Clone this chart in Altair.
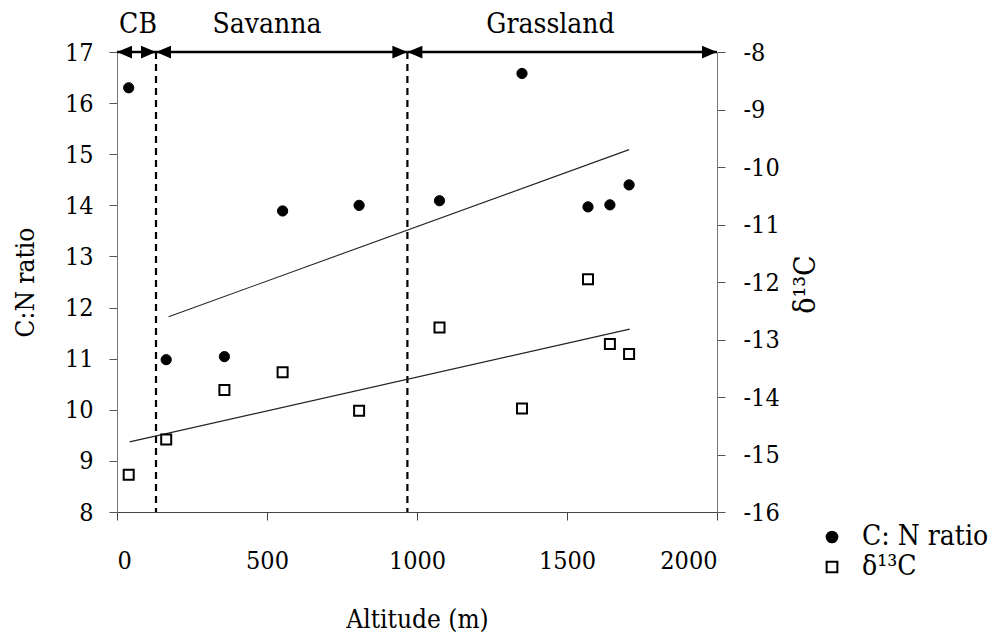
import altair as alt
import pandas as pd

# ---- data ----
altitude = [39, 164, 358, 552, 807, 1075, 1350, 1570, 1643, 1707]
cn_ratio = [16.30, 10.98, 11.04, 13.89, 14.00, 14.09, 16.58, 13.97, 14.01, 14.40]
d13c = [-15.35, -14.74, -13.88, -13.57, -14.24, -12.79, -14.20, -11.95, -13.08, -13.25]

zone_names = ["CB", "Savanna", "Grassland"]
zone_start = [0, 130, 968]
zone_end = [130, 968, 2000]
zone_label_x = [70, 500, 1445]
boundaries = [130, 968]

trend_cn_x = [172, 1707]
trend_cn_y = [11.82, 15.09]
trend_d13c_x = [42, 1709]
trend_d13c_y = [-14.78, -12.82]

x_ticks = [0, 500, 1000, 1500, 2000]
cn_ticks = list(range(8, 18))
d13c_ticks = list(range(-16, -7))
legend_names = ["C: N ratio", "δ¹³C"]

FONT = "DejaVu Serif Condensed, DejaVu Serif"

pts_cn = pd.DataFrame({"alt": altitude, "v": cn_ratio, "series": legend_names[0]})
pts_d = pd.DataFrame({"alt": altitude, "v": d13c, "series": legend_names[1]})
zones = pd.DataFrame({"name": zone_names, "start": zone_start, "end": zone_end, "lx": zone_label_x})
bounds = pd.DataFrame({"b": boundaries})
tr_cn = pd.DataFrame({"x1": [trend_cn_x[0]], "x2": [trend_cn_x[1]], "y1": [trend_cn_y[0]], "y2": [trend_cn_y[1]]})
tr_d = pd.DataFrame({"x1": [trend_d13c_x[0]], "x2": [trend_d13c_x[1]], "y1": [trend_d13c_y[0]], "y2": [trend_d13c_y[1]]})

xscale = alt.Scale(domain=[0, 2000], nice=False, zero=False)
xaxis = alt.Axis(values=x_ticks, title="Altitude (m)", grid=False, tickSize=8, format="d",
                 labelPadding=28, titlePadding=33, domainColor="#444", tickColor="#444")


def X(field):
    return alt.X(f"{field}:Q", scale=xscale, axis=xaxis)


yl_scale = alt.Scale(domain=[8, 17], nice=False, zero=False)
yl_axis = alt.Axis(values=cn_ticks, title="C:N ratio", grid=False, orient="left", tickSize=8,
                   labelPadding=16, titlePadding=26, domainColor="#777", tickColor="#555")
yr_scale = alt.Scale(domain=[-16, -8], nice=False, zero=False)
yr_axis = alt.Axis(values=d13c_ticks, title="δ¹³C", grid=False, orient="right", tickSize=8,
                   labelPadding=18, titleAngle=270, titleFontSize=30,
                   titleX=88, titleY=232, titleAlign="center", titleBaseline="middle",
                   labelExpr="datum.value + ''", domainColor="#777", tickColor="#555")


def YL(field=None, datum=None):
    if datum is not None:
        return alt.Y(datum=datum, type="quantitative", scale=yl_scale, axis=yl_axis)
    return alt.Y(f"{field}:Q", scale=yl_scale, axis=yl_axis)


def YR(field):
    return alt.Y(f"{field}:Q", scale=yr_scale, axis=yr_axis)


legend = alt.Legend(title=None, orient="none", legendX=701, legendY=471, labelFontSize=28,
                    labelFont=FONT, symbolSize=115, symbolStrokeWidth=2, rowPadding=2,
                    labelOffset=16)
shape_enc = alt.Shape("series:N", scale=alt.Scale(domain=legend_names, range=["circle", "square"]), legend=legend)
fill_enc = alt.Fill("series:N", scale=alt.Scale(domain=legend_names, range=["black", "white"]), legend=legend)
stroke_enc = alt.Stroke("series:N", scale=alt.Scale(domain=legend_names, range=["black", "black"]), legend=legend)

dashed = alt.Chart(bounds).mark_rule(color="black", strokeWidth=2.2, strokeDash=[7, 5]).encode(
    x=X("b"))

arrow_lines = alt.Chart(zones).mark_rule(color="black", strokeWidth=2.5).encode(
    x=X("start"), x2="end", y=YL(datum=17))

left_heads = alt.Chart(zones).mark_point(
    shape="M0,0L2,-0.85L2,0.85Z", size=225, filled=True, color="black", opacity=1).encode(
    x=X("start"), y=YL(datum=17))
right_heads = alt.Chart(zones).mark_point(
    shape="M0,0L-2,-0.85L-2,0.85Z", size=225, filled=True, color="black", opacity=1).encode(
    x=X("end"), y=YL(datum=17))

zone_text = alt.Chart(zones).mark_text(font=FONT, fontSize=28, baseline="alphabetic",
                                       align="center", color="black").encode(
    x=X("lx"), y=YL(datum=17.37), text="name:N")

cn_points = alt.Chart(pts_cn).mark_point(filled=True, size=105, strokeWidth=1, opacity=1).encode(
    x=X("alt"), y=YL("v"), shape=shape_enc, fill=fill_enc, stroke=stroke_enc)

cn_trend = alt.Chart(tr_cn).mark_rule(color="#222", strokeWidth=1.1).encode(
    x=X("x1"), x2="x2", y=YL("y1"), y2="y2")

d_points = alt.Chart(pts_d).mark_point(filled=True, size=100, strokeWidth=2, opacity=1).encode(
    x=X("alt"), y=YR("v"), shape=shape_enc, fill=fill_enc, stroke=stroke_enc)

d_trend = alt.Chart(tr_d).mark_rule(color="#222", strokeWidth=1.1).encode(
    x=X("x1"), x2="x2", y=YR("y1"), y2="y2")

left = alt.layer(dashed, arrow_lines, left_heads, right_heads, zone_text, cn_trend, cn_points)
right = alt.layer(d_trend, d_points)

chart = alt.layer(left, right).resolve_scale(y="independent").properties(
    width=600, height=460, autosize="none",
    padding={"left": 117, "top": 52, "right": 287, "bottom": 123},
    background="white",
).configure_view(stroke=None).configure_axis(
    labelFont=FONT, titleFont=FONT, labelFontSize=25, titleFontSize=26,
    labelColor="black", titleColor="black", titleFontWeight="normal",
).configure_legend(labelFont=FONT)

chart.save("out.html", embed_options={"renderer": "svg", "actions": False})
